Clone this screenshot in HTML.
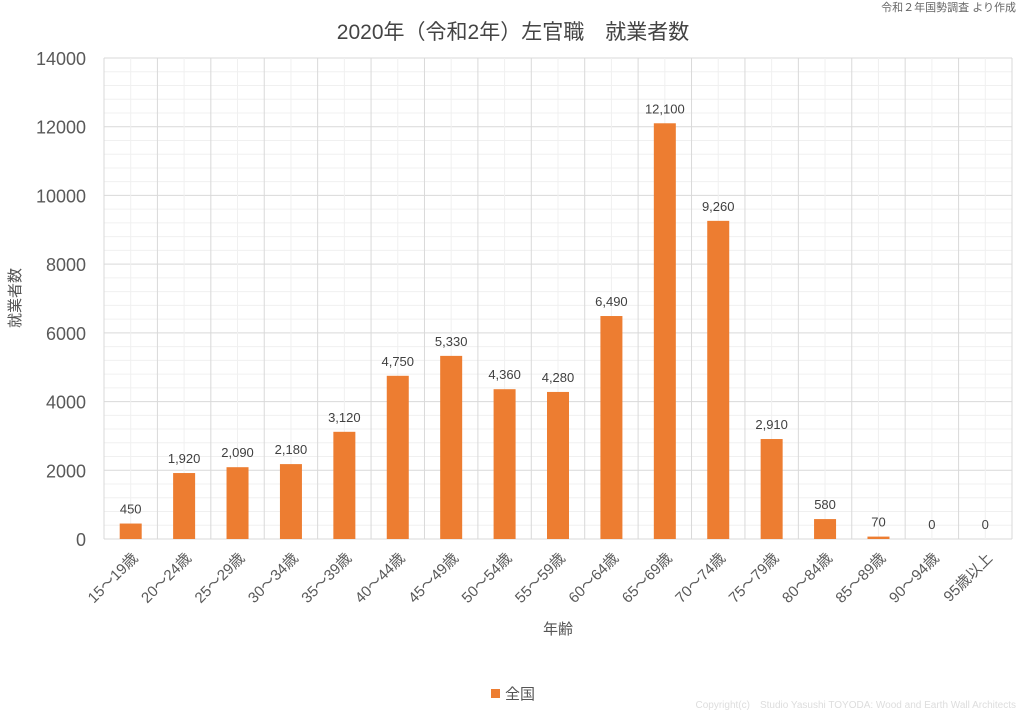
<!DOCTYPE html>
<html><head><meta charset="utf-8"><style>
body{margin:0;background:#fff}
svg text{font-family:"Liberation Sans","Noto Sans CJK JP",sans-serif}
</style></head><body>
<svg width="1024" height="711" xmlns="http://www.w3.org/2000/svg">
<rect width="1024" height="711" fill="#fff"/>
<text x="1016" y="11" font-size="11" fill="#666" text-anchor="end">令和２年国勢調査 より作成</text>
<text x="513" y="39" font-size="21" fill="#444" text-anchor="middle">2020年（令和2年）左官職　就業者数</text>
<g id="grid"></g>
<g id="bars"></g>
<text transform="translate(20,298) rotate(-90)" font-size="15" fill="#555" text-anchor="middle">就業者数</text>
<text x="558" y="634" font-size="15" fill="#555" text-anchor="middle">年齢</text>
<rect x="491" y="689" width="9" height="9" fill="#ED7D31"/>
<text x="505" y="699" font-size="15" fill="#555">全国</text>
<text x="1016" y="708" font-size="10" fill="#ddd" text-anchor="end">Copyright(c)　Studio Yasushi TOYODA: Wood and Earth Wall Architects</text>
</svg>
<script>
const ns="http://www.w3.org/2000/svg";
const L=104,R=1012,T=58,B=539,n=17,cw=(R-L)/n,ppu=(B-T)/14000;
const g=document.getElementById('grid'),b=document.getElementById('bars');
function el(p,t,a,txt){const e=document.createElementNS(ns,t);for(const k in a)e.setAttribute(k,a[k]);if(txt!=null)e.textContent=txt;p.appendChild(e);return e;}
for(let v=0;v<=14000;v+=400){const y=B-v*ppu;el(g,'line',{x1:L,x2:R,y1:y,y2:y,stroke:v%2000?'#f0f0f0':'#d9d9d9','stroke-width':1});}
for(let i=0;i<n;i++){const x=L+cw*(i+0.5);el(g,'line',{x1:x,x2:x,y1:T,y2:B,stroke:'#f0f0f0'});}
for(let i=0;i<=n;i++){const x=L+cw*i;el(g,'line',{x1:x,x2:x,y1:T,y2:B,stroke:'#d9d9d9'});}
for(let v=0;v<=14000;v+=2000){el(g,'text',{x:86,y:B-v*ppu+7,'font-size':18,fill:'#595959','text-anchor':'end'},String(v));}
const labs=['15～19歳','20～24歳','25～29歳','30～34歳','35～39歳','40～44歳','45～49歳','50～54歳','55～59歳','60～64歳','65～69歳','70～74歳','75～79歳','80～84歳','85～89歳','90～94歳','95歳以上'];
const vals=[450,1920,2090,2180,3120,4750,5330,4360,4280,6490,12100,9260,2910,580,70,0,0];
vals.forEach((v,i)=>{const cx=L+cw*(i+0.5),h=v*ppu;
if(h>0)el(b,'rect',{x:cx-11,y:B-h,width:22,height:h,fill:'#ED7D31'});
el(b,'text',{x:cx,y:B-h-10,'font-size':13,fill:'#404040','text-anchor':'middle'},v.toLocaleString('en-US'));
el(b,'text',{transform:`translate(${cx+8},${B+20}) rotate(-45)`,'font-size':15,fill:'#595959','text-anchor':'end'},labs[i]);});
</script>
</body></html>
